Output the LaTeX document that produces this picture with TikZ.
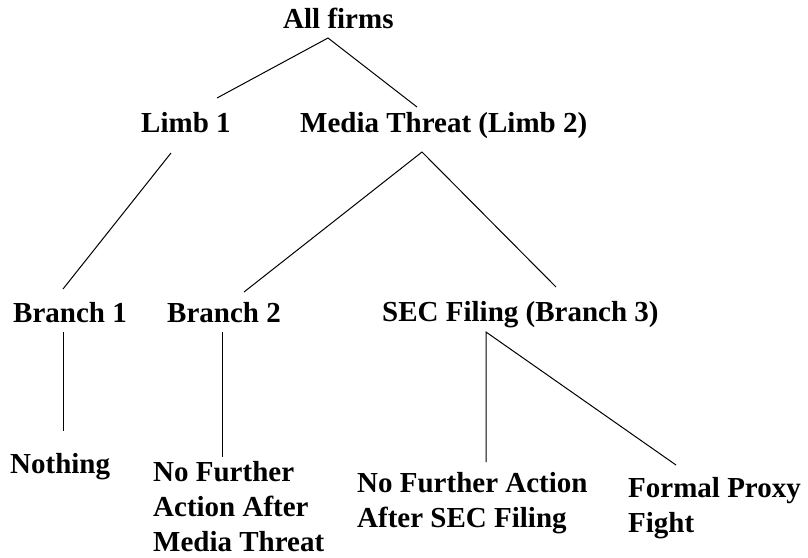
\documentclass[tikz,border=0pt]{standalone}
\usepackage{fontspec}
\setmainfont{Liberation Serif}
\usetikzlibrary{positioning}
\tikzset{
  lbl/.style={font=\bfseries\fontsize{29}{35}\selectfont,inner sep=0pt,anchor=base west,align=left},
  edge/.style={line width=1pt}
}
\begin{document}
\begin{tikzpicture}[x=1pt,y=-1pt]
\useasboundingbox (0,0) rectangle (808,557);
% levels of the tree (multi-line nodes sit on their last line)
\node[lbl] (all) at (283,28) {All firms};
\node[lbl] (limb1) at (141,132) {Limb 1};
\node[lbl] (limb2) at (300,132) {Media Threat (Limb 2)};
\node[lbl] (branch1) at (13,322) {Branch 1};
\node[lbl] (branch2) at (167,322) {Branch 2};
\node[lbl] (branch3) at (382,321) {SEC Filing (Branch 3)};
\node[lbl] (nothing) at (10,473) {Nothing};
\node[lbl,text depth=0pt] (nofurther2) at (153,551) {No Further\\Action After\\Media Threat};
\node[lbl] (nofurther3) at (357,527) {No Further Action\\After SEC Filing};
\node[lbl] (proxy) at (628,532) {Formal Proxy\\Fight};
% line ends
\coordinate (all-b) at (328,38);
\coordinate (limb1-t) at (217,98);
\coordinate (limb2-t) at (417,107);
\coordinate (limb1-b) at (171,153);
\coordinate (limb2-b) at (422,152);
\coordinate (branch1-t) at (63,289);
\coordinate (branch2-t) at (244,292);
\coordinate (branch3-t) at (556,287);
\coordinate (branch1-b) at (63,332);
\coordinate (branch2-b) at (222,332);
\coordinate (branch3-b) at (486,332);
\coordinate (nothing-t) at (63,431);
\coordinate (nofurther2-t) at (222,457);
\coordinate (nofurther3-t) at (486,462);
\coordinate (proxy-t) at (676,465);
% connectors
\draw[edge] (limb1-t)--(all-b)--(limb2-t);
\draw[edge] (limb1-b)--(branch1-t);
\draw[edge] (branch2-t)--(limb2-b)--(branch3-t);
\draw[edge] (branch1-b)--(nothing-t);
\draw[edge] (branch2-b)--(nofurther2-t);
\draw[edge] (nofurther3-t)--(branch3-b)--(proxy-t);
\end{tikzpicture}
\end{document}
